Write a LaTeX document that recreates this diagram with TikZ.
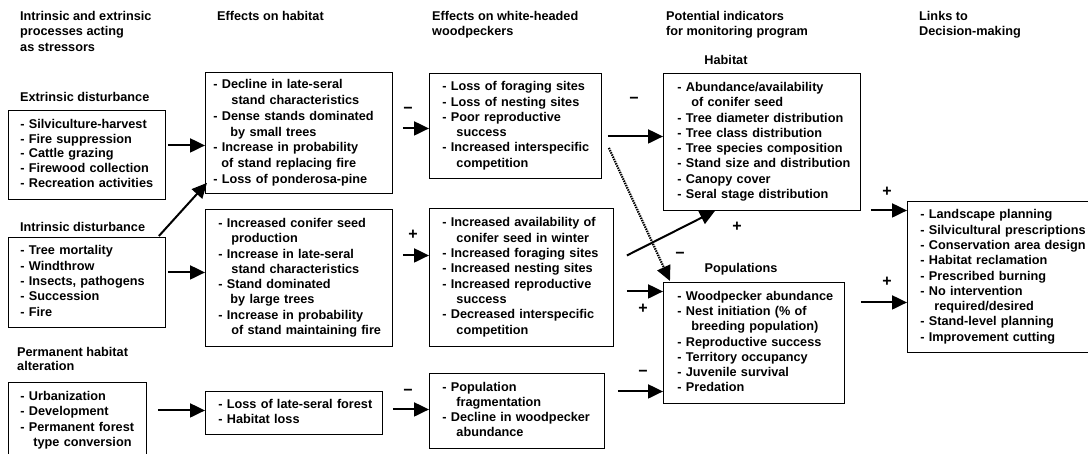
\documentclass[tikz,border=0pt]{standalone}
\usepackage{fontspec}
\setmainfont{Liberation Sans}
\usetikzlibrary{positioning,arrows.meta,calc}

% box contents: one row per line, no wrapping
\newcommand{\lines}[2][15.3pt]{{\fontsize{12.7}{#1}\selectfont
  \begin{tabular}{@{}l@{}}#2\end{tabular}}}
\newcommand{\ind}[1][14pt]{\hspace*{#1}}

\tikzset{
  box/.style={draw, line width=0.9pt, anchor=north west, inner sep=0pt, align=left},
  hdr/.style={anchor=north west, inner sep=0pt, align=left},
  lbl/.style={inner sep=0pt},
  sgn/.style={inner sep=0pt, font=\bfseries\fontsize{16}{16}\selectfont},
  arr/.style={line width=2pt, -{Triangle[length=15pt,width=14pt]}},
  dotarr/.style={line width=2.2pt, dash pattern=on 1.4pt off 1pt, -{Triangle[length=15pt,width=14pt]}}
}

\begin{document}
\begin{tikzpicture}[x=1pt,y=-1pt,font=\bfseries\fontsize{12.7}{15.5}\selectfont]
\useasboundingbox (0,0) rectangle (1088,454);

% Column headers
\node[hdr] (hdStress) at (20,10.7) {Intrinsic and extrinsic\\processes acting\\as stressors};
\node[hdr] (hdHabitat) at (217,10.7) {Effects on habitat};
\node[hdr] (hdWood) at (432,10.7) {Effects on white-headed\\woodpeckers};
\node[hdr] (hdIndic) at (666,10.7) {Potential indicators\\for monitoring program};
\node[hdr] (hdLinks) at (919,10.7) {Links to\\Decision-making};

% Stressors
\node[lbl, anchor=west] (lblExt) at (20,97) {Extrinsic disturbance};
\node[box, minimum width=157pt, minimum height=89pt, text width=133pt] (ext) at (8,110)
  {\lines[14.6pt]{- Silviculture-harvest\\- Fire suppression\\- Cattle grazing\\- Firewood collection\\- Recreation activities}};
\node[lbl, anchor=west] (lblIntr) at (20,227) {Intrinsic disturbance};
\node[box, minimum width=157pt, minimum height=90pt, text width=133pt] (intr) at (8,237)
  {\lines{- Tree mortality\\- Windthrow\\- Insects, pathogens\\- Succession\\- Fire}};
\node[hdr] (lblPerm) at (17,347.3) {Permanent habitat\\[-1.5pt]alteration};
\node[box, minimum width=138pt, minimum height=76pt, text width=114pt] (perm) at (8,382)
  {\lines{- Urbanization\\- Development\\- Permanent forest\\\ind[13pt]type conversion}};

% Effects on habitat
\node[box, minimum width=187pt, minimum height=121pt, text width=171pt] (habA) at (205,72)
  {\lines[15.7pt]{- Decline in late-seral\\\ind[18pt]stand characteristics\\- Dense stands dominated\\\ind[17pt]by small trees\\- Increase in probability\\\ind[8pt]of stand replacing fire\\- Loss of ponderosa-pine}};
\node[box, minimum width=187pt, minimum height=137pt, text width=161pt] (habB) at (205,209)
  {\lines{- Increased conifer seed\\\ind[13pt]production\\- Increase in late-seral\\\ind[13pt]stand characteristics\\- Stand dominated\\\ind[12pt]by large trees\\- Increase in probability\\\ind[13pt]of stand maintaining fire}};
\node[box, minimum width=177pt, minimum height=43pt, text width=151pt] (loss) at (205,391)
  {\lines{- Loss of late-seral forest\\- Habitat loss}};

% Effects on woodpeckers
\node[box, minimum width=172pt, minimum height=105pt, text width=146pt] (wpA) at (429,73)
  {\lines{- Loss of foraging sites\\- Loss of nesting sites\\- Poor reproductive\\\ind success\\- Increased interspecific\\\ind competition}};
\node[box, minimum width=184pt, minimum height=138pt, text width=158pt] (wpB) at (429,208)
  {\lines{- Increased availability of\\\ind conifer seed in winter\\- Increased foraging sites\\- Increased nesting sites\\- Increased reproductive\\\ind success\\- Decreased interspecific\\\ind competition}};
\node[box, minimum width=175pt, minimum height=75pt, text width=149pt] (frag) at (429,373)
  {\lines{- Population\\\ind fragmentation\\- Decline in woodpecker\\\ind abundance}};

% Indicators
\node[lbl, anchor=base] (lblHab) at (726,64.6) {Habitat};
\node[box, minimum width=197pt, minimum height=137pt, text width=169pt] (indHab) at (663,73)
  {\lines{- Abundance/availability\\\ind of conifer seed\\- Tree diameter distribution\\- Tree class distribution\\- Tree species composition\\- Stand size and distribution\\- Canopy cover\\- Seral stage distribution}};
\node[lbl, anchor=base] (lblPop) at (741,272.6) {Populations};
\node[box, minimum width=181pt, minimum height=121pt, text width=153pt] (indPop) at (663,282)
  {\lines{- Woodpecker abundance\\- Nest initiation (\% of\\\ind breeding population)\\- Reproductive success\\- Territory occupancy\\- Juvenile survival\\- Predation}};

% Decision-making
\node[box, minimum width=185pt, minimum height=151pt, text width=159pt] (decis) at (907,201)
  {\lines{- Landscape planning\\- Silvicultural prescriptions\\- Conservation area design\\- Habitat reclamation\\- Prescribed burning\\- No intervention\\\ind required/desired\\- Stand-level planning\\- Improvement cutting}};

% Arrows
\draw[arr] ($(ext.east)+(2,-9.5)$) -- ($(habA.west)+(0,12.5)$);
\draw[arr] ($(intr.east)+(2,-10)$) -- ($(habB.west)+(0,-5.5)$);
\draw[arr] ($(intr.north east)+(-7,-1)$) -- ($(habA.south west)+(2,-11)$);
\draw[arr] ($(perm.east)+(11,-10)$) -- ($(loss.west)+(0,-2.5)$);
\draw[arr] ($(habA.east)+(10,-4.5)$) -- ($(wpA.west)+(0,2.5)$);
\draw[arr] ($(habB.east)+(10,-22.5)$) -- ($(wpB.west)+(0,-22)$);
\draw[arr] ($(loss.east)+(10,-3.5)$) -- ($(frag.west)+(0,-1.5)$);
\draw[arr] ($(wpA.east)+(6,10.5)$) -- ($(indHab.west)+(0,-5.5)$);
\draw[dotarr] ($(wpA.south east)+(7,-31)$) -- ($(indPop.north west)+(7,-1)$);
\draw[arr] ($(wpB.east)+(13,-22)$) -- ($(indHab.south west)+(52,0)$);
\draw[arr] ($(wpB.east)+(13,14)$) -- ($(indPop.west)+(0,-51.5)$);
\draw[arr] ($(frag.east)+(13,-19.5)$) -- ($(indPop.west)+(0,48.5)$);
\draw[arr] ($(indHab.east)+(10,68.5)$) -- ($(decis.west)+(0,-66.5)$);
\draw[arr] ($(indPop.east)+(16,-40.5)$) -- ($(decis.west)+(0,25.5)$);

% Signs
\node[sgn] (sgnA) at (408,110) {−};
\node[sgn] (sgnB) at (413,235) {+};
\node[sgn] (sgnC) at (408,392) {−};
\node[sgn] (sgnD) at (634,100) {−};
\node[sgn] (sgnE) at (643,309) {+};
\node[sgn] (sgnF) at (643,373) {−};
\node[sgn] (sgnG) at (680,255) {−};
\node[sgn] (sgnH) at (737,227) {+};
\node[sgn] (sgnI) at (887,192) {+};
\node[sgn] (sgnJ) at (887,282) {+};
\end{tikzpicture}
\end{document}
